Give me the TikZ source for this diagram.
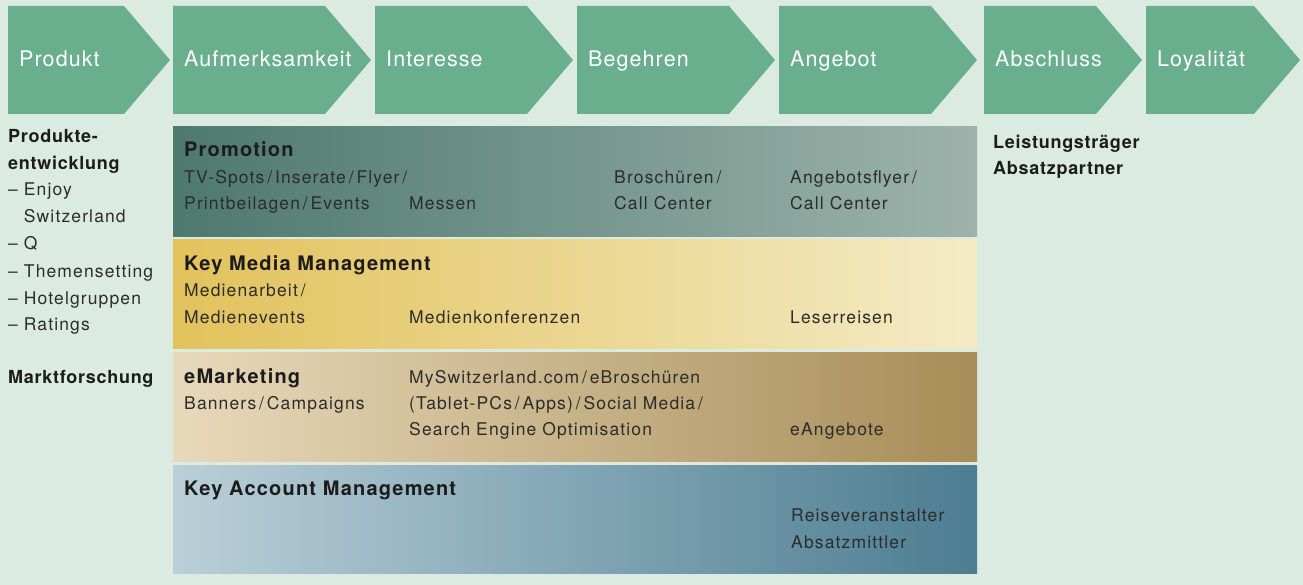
\documentclass[tikz,border=0pt]{standalone}
\usepackage{fontspec}
\setmainfont{TeX Gyre Heros}[LetterSpace=6.5]
\newfontfamily\stagefont{TeX Gyre Heros}[LetterSpace=5]
\newfontfamily\headfont{TeX Gyre Heros}[LetterSpace=6]
\newfontfamily\sidefont{TeX Gyre Heros}[LetterSpace=4]

\definecolor{bgc}{HTML}{DCEBE1}
\definecolor{stagec}{HTML}{69AF8D}
\definecolor{inkc}{HTML}{1C1C1C}
\definecolor{bodyc}{HTML}{2C2C2A}
\definecolor{promoL}{HTML}{4E796E}
\definecolor{promoR}{HTML}{9DB3AB}
\definecolor{mediaL}{HTML}{E2C25C}
\definecolor{mediaR}{HTML}{F4EBC6}
\definecolor{emarkL}{HTML}{E8D9BB}
\definecolor{emarkR}{HTML}{A78D57}
\definecolor{accL}{HTML}{BACFD8}
\definecolor{accR}{HTML}{4C7D91}

\tikzset{
  stage/.style={fill=stagec},
  stagelabel/.style={anchor=base west, inner sep=0pt, text=white,
    font=\stagefont\fontsize{21.5}{25}\selectfont},
  head/.style={anchor=base west, inner sep=0pt, text=inkc,
    font=\headfont\fontsize{20}{24}\selectfont\bfseries},
  body/.style={anchor=base west, inner sep=0pt, text=bodyc,
    font=\fontsize{17.5}{21}\selectfont},
  side/.style={anchor=base west, inner sep=0pt, text=inkc,
    font=\sidefont\fontsize{18}{22}\selectfont\bfseries}
}

\begin{document}
\begin{tikzpicture}[x=1pt,y=-1pt]
  % canvas
  \fill[bgc] (0,0) rectangle (1303,585);
  \useasboundingbox (0,0) rectangle (1303,585);

  % stage chevrons along the top
  \foreach \l/\r/\t/\n in {8/170/Produkt/produkt,
                           173/371/Aufmerksamkeit/aufmerksamkeit,
                           375/573/Interesse/interesse,
                           577/775/Begehren/begehren,
                           779/977/Angebot/angebot,
                           984/1142/Abschluss/abschluss,
                           1146/1300/Loyalität/loyalitaet} {
    \fill[stage] (\l,6) -- (\r-46,6) -- (\r,60) -- (\r-46,114) -- (\l,114) -- cycle;
    \node[stagelabel] (\n) at (\l+11,67) {\t};
  }

  % instrument bands
  \shade[left color=promoL, right color=promoR] (173,127) rectangle (977,237);
  \shade[left color=mediaL, right color=mediaR] (173,240) rectangle (977,348);
  \shade[left color=emarkL, right color=emarkR] (173,352) rectangle (977,461);
  \shade[left color=accL,   right color=accR]   (173,465) rectangle (977,573);

  % left column: product side
  \node[side] (pe1) at (8,143) {Produkte-};
  \node[side] (pe2) at (8,170) {entwicklung};
  \node[body] (pe3) at (8,196) {– Enjoy};
  \node[body] (pe4) at (8,223) {\phantom{– }Switzerland};
  \node[body] (pe5) at (8,250) {– Q};
  \node[body] (pe6) at (8,277) {– Themensetting};
  \node[body] (pe7) at (8,304) {– Hotelgruppen};
  \node[body] (pe8) at (8,330) {– Ratings};
  \node[side] (mf)  at (8,383) {Marktforschung};

  % right column: closing side
  \node[side] (lt) at (993,149) {Leistungsträger};
  \node[side] (ap) at (993,175) {Absatzpartner};

  % Promotion
  \node[head] (promo)  at (184,157) {Promotion};
  \node[body] (pr1)    at (184,183.5) {TV-Spots\,/\,Inserate\,/\,Flyer\,/};
  \node[body] (pr2)    at (184,210) {Printbeilagen\,/\,Events};
  \node[body] (pr3)    at (409,210) {Messen};
  \node[body] (pr4)    at (614,183.5) {Broschüren\,/};
  \node[body] (pr5)    at (614,210) {Call Center};
  \node[body] (pr6)    at (790,183.5) {Angebotsflyer\,/};
  \node[body] (pr7)    at (790,210) {Call Center};

  % Key Media Management
  \node[head] (media)  at (184,270) {Key Media Management};
  \node[body] (km1)    at (184,296) {Medienarbeit\,/};
  \node[body] (km2)    at (184,323) {Medienevents};
  \node[body] (km3)    at (409,323) {Medienkonferenzen};
  \node[body] (km4)    at (790,323) {Leserreisen};

  % eMarketing
  \node[head] (emark)  at (184,383) {eMarketing};
  \node[body] (em1)    at (184,409) {Banners\,/\,Campaigns};
  \node[body] (em2)    at (409,383) {MySwitzerland.com\,/\,eBroschüren};
  \node[body] (em3)    at (409,409) {(Tablet-PCs\,/\,Apps)\,/\,Social Media\,/};
  \node[body] (em4)    at (409,435) {Search Engine Optimisation};
  \node[body] (em5)    at (790,435) {eAngebote};

  % Key Account Management
  \node[head] (acc)    at (184,495) {Key Account Management};
  \node[body] (ka1)    at (791,521) {Reiseveranstalter};
  \node[body] (ka2)    at (791,548) {Absatzmittler};
\end{tikzpicture}
\end{document}
